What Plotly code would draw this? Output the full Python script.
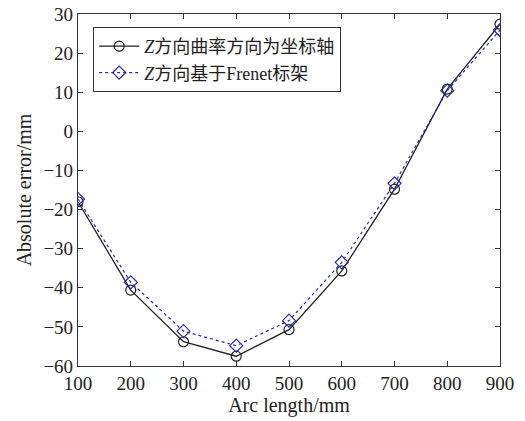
import plotly.graph_objects as go

arc_length = [100, 200, 300, 400, 500, 600, 700, 800, 900]
err_curvature = [-18.0, -40.6, -53.8, -57.5, -50.7, -35.7, -14.8, 10.8, 27.4]
err_frenet = [-17.3, -38.6, -51.1, -54.8, -48.4, -33.5, -13.3, 10.4, 25.9]
name_curvature = "<i>Z</i>方向曲率方向为坐标轴"
name_frenet = "<i>Z</i>方向基于Frenet标架"
x_ticks = [100, 200, 300, 400, 500, 600, 700, 800, 900]
y_ticks = [-60, -50, -40, -30, -20, -10, 0, 10, 20, 30]

FONT = "Liberation Serif, Times New Roman, Noto Sans CJK SC, serif"
blue = "#2a2aa8"

fig = go.Figure()
fig.add_trace(go.Scatter(
    x=arc_length, y=err_curvature, name=name_curvature, mode="lines+markers",
    line=dict(color="#222222", width=1.3),
    marker=dict(symbol="circle-open", size=10, color="#222222", line=dict(width=1.2)),
))
fig.add_trace(go.Scatter(
    x=arc_length, y=err_frenet, name=name_frenet, mode="lines+markers",
    line=dict(color=blue, width=1.2, dash="dot"),
    marker=dict(symbol="diamond-open", size=10, color=blue, line=dict(width=1.2)),
))

axis_common = dict(
    showgrid=False, zeroline=False, showline=True, linecolor="#333333", linewidth=1.2,
    mirror="ticks", ticks="inside", ticklen=5, tickcolor="#333333",
    tickfont=dict(family=FONT, size=19, color="#222222"),
    automargin=False,
)
fig.update_xaxes(range=[100, 900], tickvals=x_ticks,
                 title=dict(text="Arc length/mm", font=dict(family=FONT, size=20, color="#222222"), standoff=2),
                 **axis_common)
fig.update_yaxes(range=[-60, 30], tickvals=y_ticks,
                 ticktext=[str(v).replace("-", "\u2212") for v in y_ticks],
                 title=dict(text="Absolute error/mm", font=dict(family=FONT, size=20, color="#222222"), standoff=6),
                 **axis_common)

fig.update_layout(
    width=525, height=421,
    margin=dict(l=78, r=25, t=14, b=55, autoexpand=False),
    paper_bgcolor="white", plot_bgcolor="white",
    font=dict(family=FONT, color="#222222"),
    legend=dict(x=0.036, y=0.963, xanchor="left", yanchor="top",
                bgcolor="white", bordercolor="#333333", borderwidth=1,
                font=dict(family=FONT, size=18, color="#222222"),
                itemwidth=40, tracegroupgap=0),
    showlegend=True,
)

fig.write_html("out.html",
               config={"displayModeBar": False},
               post_script="document.body.style.margin='0';document.body.style.overflow='hidden';")
